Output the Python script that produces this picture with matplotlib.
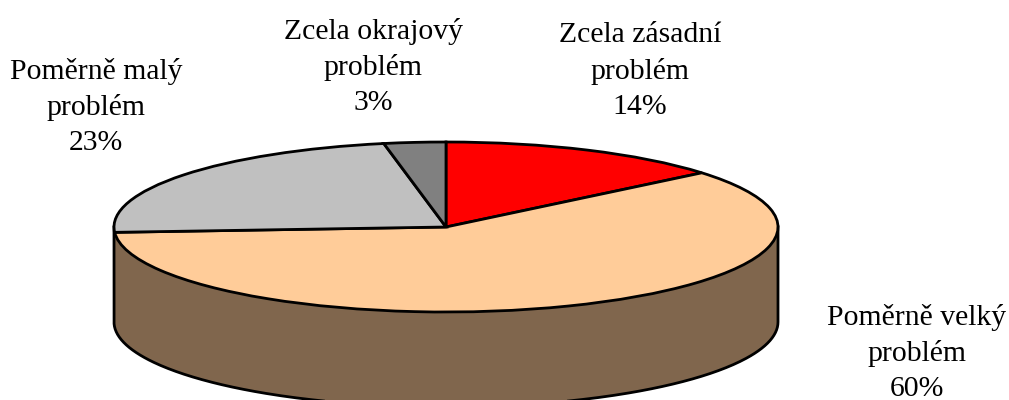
import numpy as np
import matplotlib
matplotlib.use("Agg")
import matplotlib.pyplot as plt

labels = ["Zcela zásadní\nproblém\n14%", "Poměrně velký\nproblém\n60%",
          "Poměrně malý\nproblém\n23%", "Zcela okrajový\nproblém\n3%"]
values = [14, 60, 23, 3]
colors = ["#FF0000", "#FFCC99", "#C0C0C0", "#808080"]
side_color = "#80664D"
label_pos = [(640, 71), (917, 353), (96, 107), (373, 67)]

W, H = 1009, 400
cx, cy, rx, ry, depth = 446, 227, 332, 85, 95

plt.rcParams["font.family"] = ["Liberation Serif", "DejaVu Serif"]
fig = plt.figure(figsize=(W / 100, H / 100), dpi=100)
ax = fig.add_axes([0, 0, 1, 1])

# side of the cylinder, front half only
d = depth / ry
t = np.linspace(np.pi, 2 * np.pi, 300)
ax.fill_between(np.cos(t), np.sin(t) - d, np.sin(t), color=side_color, lw=0, zorder=1)
edge_x = np.r_[-1, np.cos(t), 1]
edge_y = np.r_[0, np.sin(t) - d, 0]
ax.plot(edge_x, edge_y, color="black", lw=2, solid_joinstyle="round", zorder=2)

wedges, _ = ax.pie(values, colors=colors, startangle=90, counterclock=False, radius=1,
                   wedgeprops={"edgecolor": "black", "linewidth": 2, "zorder": 3}, frame=True)

ax.set_aspect("auto")
ax.set_xlim(-cx / rx, (W - cx) / rx)
ax.set_ylim((cy - H) / ry, cy / ry)
ax.axis("off")

for lab, (px, py) in zip(labels, label_pos):
    ax.text((px - cx) / rx, (cy - py) / ry, lab, ha="center", va="center", fontsize=21.4,
            linespacing=1.44, color="black", zorder=5)

fig.savefig("out.png", dpi=100)
